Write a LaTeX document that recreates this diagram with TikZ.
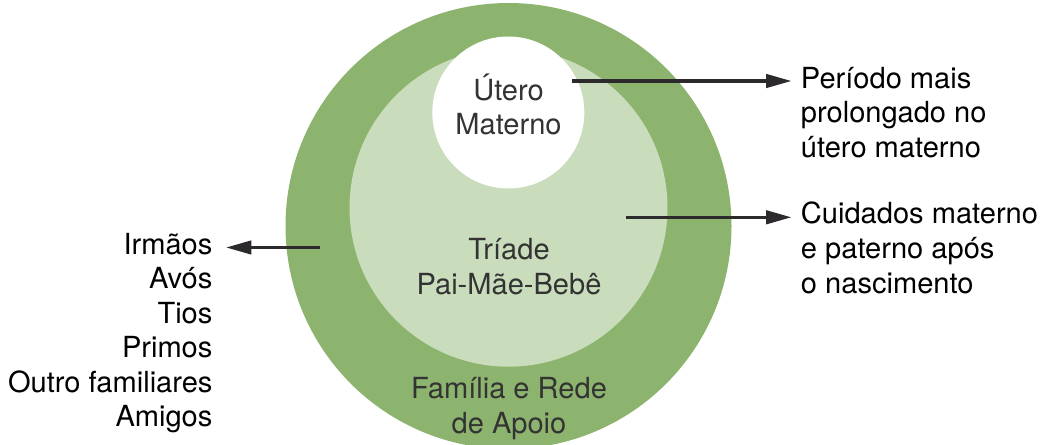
\documentclass[tikz,border=0pt]{standalone}
\usepackage{fontspec}
\setmainfont{TeX Gyre Heros}
\usetikzlibrary{arrows.meta}
\definecolor{outergreen}{RGB}{141,180,111}
\definecolor{midgreen}{RGB}{201,220,188}
\definecolor{circtext}{RGB}{51,51,51}
\definecolor{arrowcol}{RGB}{45,42,45}
\tikzset{
  ring/.style={circle, inner sep=0pt, draw=none},
  lbl/.style={font=\fontsize{21.8}{25.9}\selectfont, inner sep=0pt},
  inlbl/.style={lbl, text=circtext, align=center, anchor=base},
  outlbl/.style={lbl, text=black},
  conn/.style={draw=arrowcol, line width=2.4pt, -{Triangle[length=19pt,width=10pt]}}
}
\begin{document}
\begin{tikzpicture}[x=0.75pt,y=-0.75pt]
\useasboundingbox (0,0) rectangle (1045,445);
\node[ring, fill=outergreen, minimum size=334.5pt] (outer) at (508.5,226) {};
\node[ring, fill=midgreen, minimum size=238.5pt] (mid) at (508.5,207.7) {};
\node[ring, fill=white, minimum size=114pt] (inner) at (508.3,112.5) {};

\node[inlbl] (tutero) at (508.5,135) {Útero\\Materno};
\node[inlbl] (ttriade) at (509,294) {Tríade\\Pai-Mãe-Bebê};
\node[inlbl] (tfam) at (509,433.3) {Família e Rede\\de Apoio};

\node[outlbl, align=left, anchor=base west] (tper) at (800.7,157.3) {Período mais\\prolongado no\\útero materno};
\node[outlbl, align=left, anchor=base west] (tcui) at (800.7,293) {Cuidados materno\\e paterno após\\o nascimento};
\node[outlbl, align=right, anchor=base east] (tfamlist) at (212.7,426.7) {Irmãos\\Avós\\Tios\\Primos\\Outro familiares\\Amigos};

\coordinate (s1) at (572.3,81);
\coordinate (e1) at (791.5,81);
\coordinate (s2) at (625.7,217.3);
\coordinate (e2) at (791.5,217.3);
\coordinate (s3) at (319.5,247.5);
\coordinate (e3) at (226,247.5);
\draw[conn] (s1) -- (e1);
\draw[conn] (s2) -- (e2);
\draw[conn] (s3) -- (e3);
\end{tikzpicture}
\end{document}
